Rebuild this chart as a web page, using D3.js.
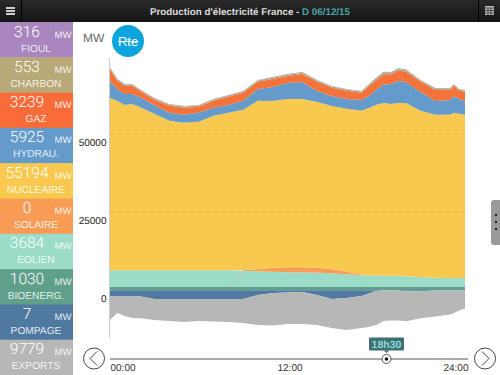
<!DOCTYPE html>
<html><head><meta charset="utf-8">
<script src="https://cdn.jsdelivr.net/npm/d3@7/dist/d3.min.js"></script>
<style>html,body{margin:0;padding:0;background:#fff;overflow:hidden}svg{display:block;font-family:"Liberation Sans",Arial,sans-serif;text-rendering:geometricPrecision}</style>
</head><body><svg id="c" width="500" height="375"></svg>
<script>
const hours=[0,.5,1,1.5,2,3,4,5,6,7,8,9,10,11,12,13,14,15,16,17,17.5,18,18.5,19,19.5,20,21,22,23,23.25,23.6,24];
const bioenergie=[1030,1030,1030,1030,1030,1030,1030,1030,1030,1030,1030,1030,1030,1030,1030,1030,1030,1030,1030,1030,1030,1030,1030,1030,1030,1030,1030,1030,1030,1030,1030,1030];
const eolien=[5410,5410,5410,5410,5410,5410,5410,5410,5410,5410,5410,5260,5100,4940,4780,4780,4620,4460,4140,3820,3800,3700,3684,3650,3640,3500,3190,3020,2870,2870,2870,2870];
const solaire=[0,0,0,0,0,0,0,0,0,0,0,200,640,1270,1590,1590,1590,1270,800,160,0,0,0,0,0,0,0,0,0,0,0,0];
const nucleaire=[55090,54150,52870,53190,52230,50000,47780,47140,47460,49370,50320,51280,53830,53350,53830,53830,53030,52230,52070,52390,53510,54620,55194,54940,55260,55420,53190,52070,52230,52870,52550,52230];
const hydraulique=[5410,3820,3500,3180,3180,2860,2550,2550,2860,2550,2550,2860,3820,4450,5090,5410,3500,3180,3180,3500,3820,4770,5925,6360,7000,6680,6050,4450,4770,5410,4770,4450];
const gaz=[3860,2590,2590,2590,1950,1640,2270,2270,1950,2270,2590,2590,2270,2590,2270,2590,2910,2590,2590,2270,3050,3050,3239,3100,3400,3400,3230,3540,3230,3230,2590,2910];
const charbon=[400,400,400,400,400,400,400,400,400,400,400,400,400,400,400,400,400,400,400,400,480,553,553,500,480,480,400,400,400,400,400,400];
const fioul=[170,170,170,170,170,170,170,170,170,170,170,170,170,170,170,170,170,170,170,170,250,316,316,250,200,200,170,170,170,170,170,170];
const pompage=[-1820,-1820,-1820,-1820,-1900,-2780,-2780,-2780,-2780,-2780,-2780,-2780,-1500,-860,-700,-540,-1500,-2780,-2460,-1820,-1020,-200,-7,-100,-100,-300,-300,-100,-100,-100,-100,-100];
const exportsMW=[-7680,-5440,-6400,-7040,-7040,-6720,-7040,-7360,-7040,-7200,-7360,-7680,-9600,-10400,-10080,-10240,-9600,-9280,-10240,-10240,-10720,-10880,-9779,-9600,-9600,-9600,-8640,-8320,-7680,-7200,-6400,-5760];

const panelNames=["FIOUL","CHARBON","GAZ","HYDRAU.","NUCLEAIRE","SOLAIRE","EOLIEN","BIOENERG.","POMPAGE","EXPORTS"];
const panelValues=[316,553,3239,5925,55194,0,3684,1030,7,9779];
const panelColors=["#A986BE","#B9A878","#F96C3A","#659BCB","#F9C94F","#F79B55","#9BDCC8","#5F9F8B","#50799F","#B7B7B7"];
const yTicks=[0,25000,50000];
const xTicks=[0,12,24];
const xTickLabels=["00:00","12:00","24:00"];
const layerKeys=["bioenergie","eolien","solaire","nucleaire","hydraulique","gaz","charbon","fioul","pompage","exports"];
const layerSeries=[bioenergie,eolien,solaire,nucleaire,hydraulique,gaz,charbon,fioul,pompage,exportsMW];
const layerColors=["#5F9F8B","#9BDCC8","#F79B55","#F9C94F","#659BCB","#F4733A","#B9A27E","#A9A0A0","#50799F","#B7B7B7"];

const svg=d3.select("#c");
const x=d3.scaleLinear().domain([0,24]).range([110,465]);
const y=d3.scaleLinear().domain([0,50000]).range([290.3,134]);

// header
const defs=svg.append("defs");
const g=defs.append("linearGradient").attr("id","hd").attr("x1",0).attr("x2",0).attr("y1",0).attr("y2",1);
g.append("stop").attr("offset",0).attr("stop-color","#2a2a2a");
g.append("stop").attr("offset",1).attr("stop-color","#141414");
svg.append("rect").attr("width",500).attr("height",22).attr("fill","url(#hd)");
svg.append("line").attr("x1",21.5).attr("x2",21.5).attr("y1",0).attr("y2",22).attr("stroke","#000");
svg.append("line").attr("x1",478.5).attr("x2",478.5).attr("y1",0).attr("y2",22).attr("stroke","#000");
[7,10,13].forEach(v=>svg.append("rect").attr("x",6).attr("y",v).attr("width",9).attr("height",2).attr("fill","#ccc"));
const cal=svg.append("g").attr("transform","translate(485,6)");
cal.append("rect").attr("width",9).attr("height",9).attr("fill","#bbb");
[2,4.5,7].forEach(v=>cal.append("line").attr("x1",0).attr("x2",9).attr("y1",v).attr("y2",v).attr("stroke","#222").attr("stroke-width",.7));
[3,6].forEach(v=>cal.append("line").attr("y1",2).attr("y2",9).attr("x1",v).attr("x2",v).attr("stroke","#222").attr("stroke-width",.7));
const title=svg.append("text").attr("x",150).attr("y",14.5).attr("font-size",9.8).attr("font-weight","bold").attr("fill","#ddd");
title.append("tspan").text("Production d'électricité France - ");
title.append("tspan").attr("fill","#4aa3a8").text("D 06/12/15");

// side panels
const ph=35.3;
const p=svg.selectAll("g.panel").data(panelNames).join("g").attr("class","panel").attr("transform",(d,i)=>`translate(0,${22+i*ph})`);
p.append("rect").attr("width",73).attr("height",ph+.5).attr("fill",(d,i)=>panelColors[i]);
p.append("text").attr("x",27).attr("y",14.5).attr("text-anchor","middle").attr("font-family","Roboto").attr("font-weight",300).attr("font-size",15.5).attr("fill","#fff").text((d,i)=>panelValues[i]);
p.append("text").attr("x",63).attr("y",15.5).attr("text-anchor","middle").attr("font-size",9.5).attr("fill","#fff").attr("fill-opacity",.9).text("MW");
p.append("text").attr("x",36).attr("y",29.5).attr("text-anchor","middle").attr("font-size",10.2).attr("fill","#fff").attr("fill-opacity",.85).text(d=>d);

// stacked areas
const rows=hours.map((h,i)=>{const r={h};layerKeys.forEach((k,j)=>r[k]=layerSeries[j][i]);return r;});
const stack=d3.stack().keys(layerKeys).offset(d3.stackOffsetDiverging)(rows);
const area=d3.area().x(d=>x(d.data.h)).y0(d=>y(d[0])).y1(d=>y(d[1]));
svg.append("g").selectAll("path").data(stack).join("path").attr("d",area).attr("fill",(d,i)=>layerColors[i]);

// gridlines
svg.append("g").selectAll("line").data(yTicks.slice(1)).join("line")
 .attr("x1",x(0)).attr("x2",x(24)).attr("y1",d=>y(d)).attr("y2",d=>y(d))
 .attr("stroke","#B8973A").attr("stroke-opacity",.5).attr("stroke-width",.7).attr("stroke-dasharray","4 4");

// y axis
const ya=svg.append("g").attr("transform","translate(106.5,0)").call(d3.axisLeft(y).tickValues(yTicks).tickSize(0).tickPadding(0).tickFormat(d3.format("d")));
ya.select(".domain").remove();
ya.selectAll("text").attr("font-size",10).attr("font-family","Liberation Sans").attr("fill","#222").attr("dy","1.1em");
svg.append("line").attr("x1",109.5).attr("x2",109.5).attr("y1",58).attr("y2",338).attr("stroke","#ccc");
svg.append("text").attr("x",83).attr("y",42).attr("font-size",12).attr("fill","#666").text("MW");

// Rte logo
svg.append("circle").attr("cx",128).attr("cy",41).attr("r",16).attr("fill","#0AA5DC");
svg.append("text").attr("x",128).attr("y",46).attr("text-anchor","middle").attr("font-size",13).attr("fill","#fff").text("Rte");
svg.append("line").attr("x1",118).attr("x2",138).attr("y1",41.5).attr("y2",41.5).attr("stroke","#fff").attr("stroke-width",.8);

// slider & x axis
svg.append("line").attr("x1",110).attr("x2",468).attr("y1",359).attr("y2",359).attr("stroke","#555").attr("stroke-width",1.2);
const xa=svg.append("g").attr("transform","translate(0,359)").call(d3.axisBottom(x).tickValues(xTicks).tickSize(0).tickPadding(5).tickFormat((d,i)=>xTickLabels[i]));
xa.select(".domain").remove();
xa.selectAll("text").attr("font-size",10).attr("font-family","Liberation Sans").attr("fill","#333")
 .attr("text-anchor",(d,i)=>["start","middle","end"][i]).attr("dx",(d,i)=>[0,2,3][i]);
const tx=386.5;
svg.append("circle").attr("cx",tx).attr("cy",359).attr("r",4.5).attr("fill","#fff").attr("stroke","#555");
svg.append("circle").attr("cx",tx).attr("cy",359).attr("r",1.8).attr("fill","#111");
svg.append("rect").attr("x",369).attr("y",337.5).attr("width",35).attr("height",13).attr("rx",1).attr("fill","#3E6F72");
svg.append("path").attr("d",`M${tx-3},350.5 L${tx},353 L${tx+3},350.5Z`).attr("fill","#3E6F72");
svg.append("text").attr("x",386.5).attr("y",348).attr("text-anchor","middle").attr("font-size",10.5).attr("font-weight","bold").attr("fill","#8FDCD8").text("18h30");

// arrows
[[94,-1],[485,1]].forEach(([cx,dir])=>{
 svg.append("circle").attr("cx",cx).attr("cy",358.5).attr("r",10.5).attr("fill","#fff").attr("stroke","#444");
 svg.append("path").attr("d",`M${cx-dir*3},351.5 L${cx+dir*4},358.5 L${cx-dir*3},365.5`).attr("fill","none").attr("stroke","#444");
});

// right tab
svg.append("rect").attr("x",491).attr("y",200).attr("width",12).attr("height",45).attr("rx",3).attr("fill","#9a9a9a");
[215,222,229].forEach(v=>svg.append("circle").attr("cx",496).attr("cy",v).attr("r",1.2).attr("fill","#222"));
</script></body></html>
